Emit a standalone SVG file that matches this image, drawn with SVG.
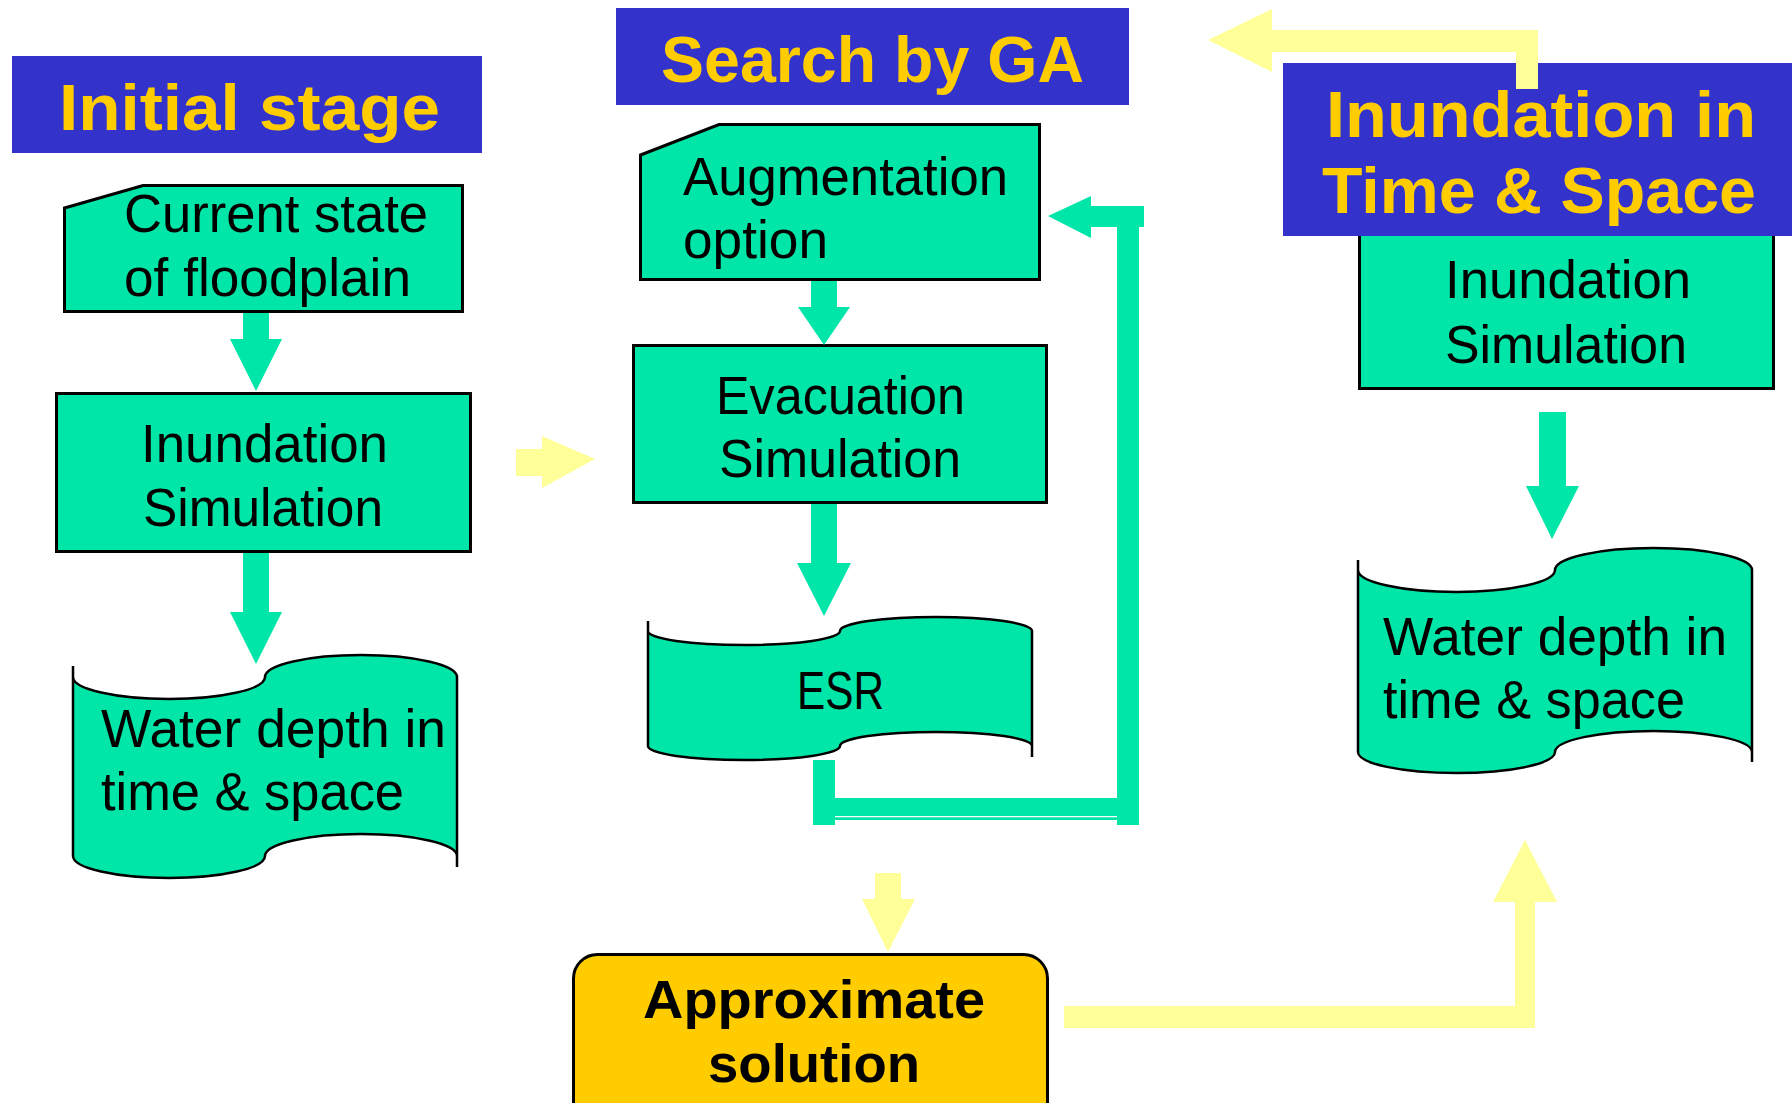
<svg xmlns="http://www.w3.org/2000/svg" width="1792" height="1103" viewBox="0 0 1792 1103">
<style>
.box{fill:#00E5A8;stroke:#000;stroke-width:3}
.tape{fill:#00E5A8;stroke:#000;stroke-width:2.5}
.tick{fill:none;stroke:#000;stroke-width:2.5}
.hdr{fill:#3333CC}
.ht{font-family:"Liberation Sans",Arial,sans-serif;font-weight:bold;font-size:65px;fill:#FFCC00}
.t{font-family:"Liberation Sans",Arial,sans-serif;font-size:53px;fill:#000}
.tb{font-family:"Liberation Sans",Arial,sans-serif;font-weight:bold;font-size:53px;fill:#000}
.g{fill:#00E5A8}
.y{fill:#FFFF99}
</style>
<rect width="1792" height="1103" fill="#fff"/>

<g id="hdr-initial">
<rect class="hdr" x="12" y="56" width="470" height="97"/>
<text class="ht" x="59" y="130" textLength="381" lengthAdjust="spacingAndGlyphs">Initial stage</text>
</g>
<g id="hdr-search">
<rect class="hdr" x="616" y="8" width="513" height="97"/>
<text class="ht" x="661" y="82" textLength="423" lengthAdjust="spacingAndGlyphs">Search by GA</text>
</g>

<g id="current-state">
<polygon class="box" points="64.5,208 143,185.5 462.5,185.5 462.5,311.5 64.5,311.5"/>
<text class="t" x="124" y="232" textLength="304" lengthAdjust="spacingAndGlyphs">Current state</text>
<text class="t" x="124" y="296" textLength="287" lengthAdjust="spacingAndGlyphs">of floodplain</text>
</g>

<g id="inundation-left">
<rect class="box" x="56.5" y="393.5" width="414" height="158"/>
<text class="t" x="141" y="462" textLength="247" lengthAdjust="spacingAndGlyphs">Inundation</text>
<text class="t" x="143" y="526" textLength="240" lengthAdjust="spacingAndGlyphs">Simulation</text>
</g>

<g id="water-left">
<path class="tape" d="M73,677 A96,22 0 0 0 265,677 A96,22 0 0 1 457,677 L457,856 A96,22 0 0 0 265,856 A96,22 0 0 1 73,856 Z"/>
<path class="tick" d="M73,666 V677 M457,856 V867"/>
<text class="t" x="101" y="747" textLength="345" lengthAdjust="spacingAndGlyphs">Water depth in</text>
<text class="t" x="101" y="810" textLength="303" lengthAdjust="spacingAndGlyphs">time &amp; space</text>
</g>

<g id="augmentation">
<polygon class="box" points="640.5,155 719,124.5 1039.5,124.5 1039.5,279.5 640.5,279.5"/>
<text class="t" x="683" y="195" textLength="325" lengthAdjust="spacingAndGlyphs">Augmentation</text>
<text class="t" x="683" y="258" textLength="145" lengthAdjust="spacingAndGlyphs">option</text>
</g>

<g id="evacuation">
<rect class="box" x="633.5" y="345.5" width="413" height="157"/>
<text class="t" x="716" y="414" textLength="249" lengthAdjust="spacingAndGlyphs">Evacuation</text>
<text class="t" x="719" y="477" textLength="242" lengthAdjust="spacingAndGlyphs">Simulation</text>
</g>

<g id="esr">
<path class="tape" d="M648,631 A96,14 0 0 0 840,631 A96,14 0 0 1 1032,631 L1032,746 A96,14 0 0 0 840,746 A96,14 0 0 1 648,746 Z"/>
<path class="tick" d="M648,621 V631 M1032,746 V757"/>
<text class="t" x="797" y="709" textLength="87" lengthAdjust="spacingAndGlyphs">ESR</text>
</g>

<g id="approximate">
<rect x="573.5" y="954.5" width="474" height="180" rx="24" ry="24" fill="#FFCC00" stroke="#000" stroke-width="3"/>
<text class="tb" x="643" y="1018" textLength="342" lengthAdjust="spacingAndGlyphs">Approximate</text>
<text class="tb" x="708" y="1082" textLength="212" lengthAdjust="spacingAndGlyphs">solution</text>
</g>

<g id="inundation-right">
<rect class="box" x="1359.5" y="200" width="414" height="188.5"/>
<text class="t" x="1445" y="298" textLength="246" lengthAdjust="spacingAndGlyphs">Inundation</text>
<text class="t" x="1445" y="363" textLength="242" lengthAdjust="spacingAndGlyphs">Simulation</text>
</g>

<g id="hdr-inundation">
<rect class="hdr" x="1283" y="63" width="509" height="173"/>
<text class="ht" x="1326" y="137" textLength="430" lengthAdjust="spacingAndGlyphs">Inundation in</text>
<text class="ht" x="1322" y="213" textLength="434" lengthAdjust="spacingAndGlyphs">Time &amp; Space</text>
</g>

<g id="water-right">
<path class="tape" d="M1358,570 A98.5,22 0 0 0 1555,570 A98.5,22 0 0 1 1752,570 L1752,752 A98.5,21 0 0 0 1555,752 A98.5,21 0 0 1 1358,752 Z"/>
<path class="tick" d="M1358,560 V570 M1752,752 V762"/>
<text class="t" x="1383" y="655" textLength="344" lengthAdjust="spacingAndGlyphs">Water depth in</text>
<text class="t" x="1383" y="718" textLength="302" lengthAdjust="spacingAndGlyphs">time &amp; space</text>
</g>

<g id="connectors">
<polygon class="g" points="243,313 269,313 269,339 282,339 256,391 230,339 243,339"/>
<polygon class="g" points="243,553 269,553 269,612 282,612 256,664 230,612 243,612"/>
<polygon class="g" points="811,281 837,281 837,307 850,307 824,345 798,307 811,307"/>
<polygon class="g" points="811,504 837,504 837,563 851,563 824,616 797,563 811,563"/>
<polygon class="g" points="1539,412 1566,412 1566,486 1579,486 1552,539 1526,486 1539,486"/>
<polygon class="g" points="813,760 835,760 835,798 1117,798 1117,227 1091,227 1091,238 1048,216 1091,196 1091,206 1144,206 1144,227 1139,227 1139,825 1117,825 1117,820 835,820 835,825 813,825"/>
<line x1="835" y1="816.6" x2="1117" y2="816.6" stroke="#fff" stroke-width="1.3"/>
<polygon class="y" points="516,449 542,449 542,436 595,459 542,488 542,476 516,476"/>
<polygon class="y" points="1208,40 1272,9 1272,30 1538,30 1538,89 1516,89 1516,52 1272,52 1272,72"/>
<polygon class="y" points="875,873 901,873 901,899 915,899 888,952 862,899 875,899"/>
<polygon class="y" points="1064,1006 1515,1006 1515,902 1493,902 1525,840 1557,902 1535,902 1535,1028 1064,1028"/>
</g>
</svg>
